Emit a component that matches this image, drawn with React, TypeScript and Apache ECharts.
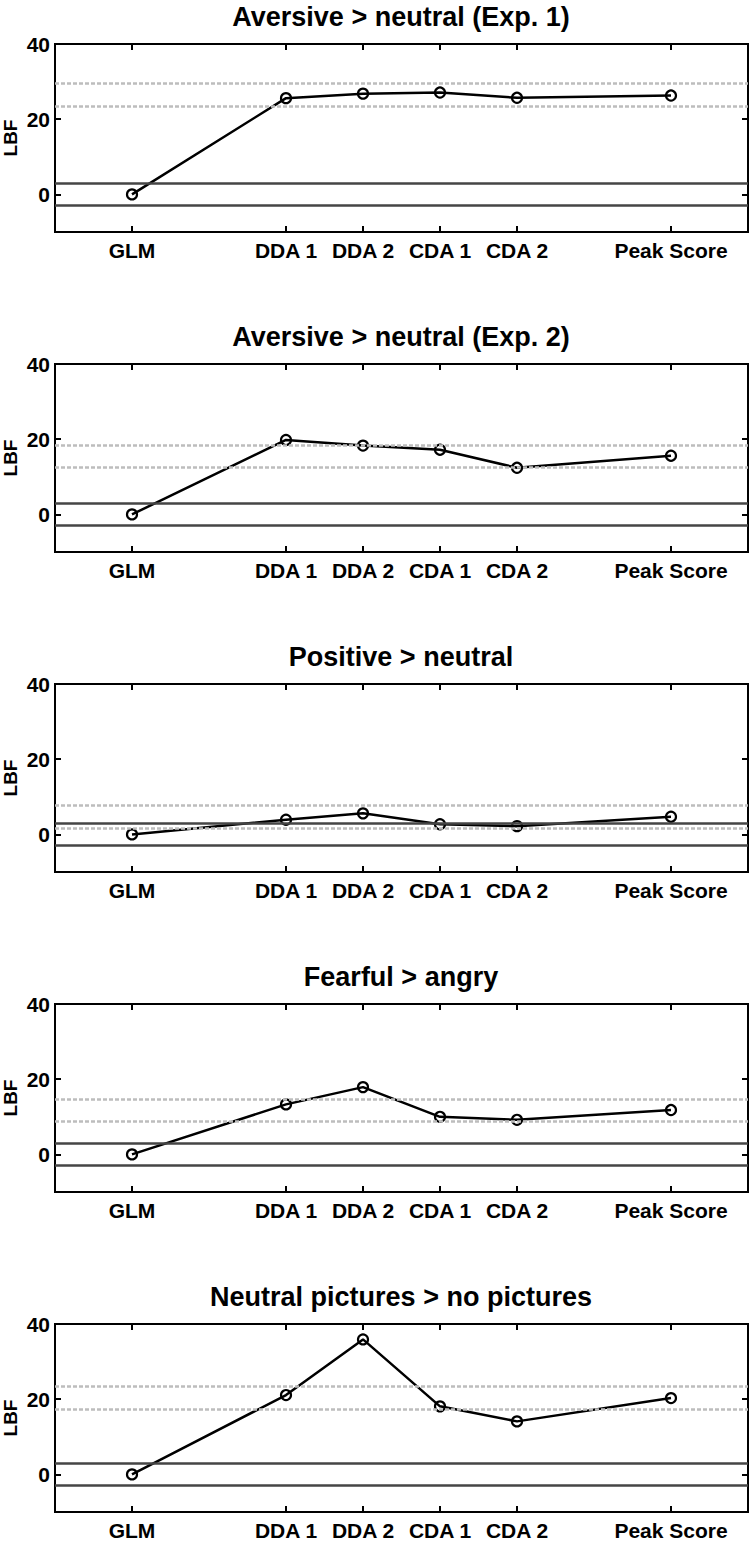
import React, { useEffect, useRef } from "react";
import * as echarts from "echarts";

const categories = ["GLM", "DDA 1", "DDA 2", "CDA 1", "CDA 2", "Peak Score"];
const categoryPositions = [1, 3, 4, 5, 6, 8];
const yTicks = [0, 20, 40];
const yAxisTitle = "LBF";

const panelTitles = [
  "Aversive > neutral (Exp. 1)",
  "Aversive > neutral (Exp. 2)",
  "Positive > neutral",
  "Fearful > angry",
  "Neutral pictures > no pictures",
];

const lbfExp1 = [0, 25.6, 26.8, 27.1, 25.7, 26.3];
const lbfExp2 = [0, 19.8, 18.3, 17.2, 12.4, 15.6];
const lbfPositive = [0, 3.9, 5.6, 2.7, 2.2, 4.7];
const lbfFearful = [0, 13.3, 17.9, 10.0, 9.2, 11.8];
const lbfNeutralPictures = [0, 21.1, 35.9, 18.1, 14.1, 20.3];
const panelValues = [lbfExp1, lbfExp2, lbfPositive, lbfFearful, lbfNeutralPictures];

const upperGrayLines = [29.5, 18.5, 7.7, 14.8, 23.4];
const lowerGrayLines = [23.4, 12.6, 1.7, 8.8, 17.3];
const significanceThresholds = [3, -3];

const FONT = "'Liberation Sans', Arial, Helvetica, sans-serif";

export default function App() {
  const ref = useRef<HTMLDivElement>(null);

  useEffect(() => {
    if (!ref.current) return;
    const chart = echarts.init(ref.current, undefined, { renderer: "svg" });

    const grids: any[] = [];
    const xAxes: any[] = [];
    const yAxes: any[] = [];
    const series: any[] = [];
    const titles: any[] = [];
    const graphics: any[] = [];

    const tickStyle = { show: true, inside: true, length: 6, lineStyle: { color: "#000", width: 2 } };
    const axisLineStyle = { show: true, onZero: false, lineStyle: { color: "#000", width: 2 } };
    const GRID_H = 188;

    panelValues.forEach((vals, i) => {
      const top = 44 + 320 * i;
      grids.push({
        left: 55,
        right: 2,
        top,
        height: GRID_H,
        show: true,
        borderColor: "#000",
        borderWidth: 2,
        backgroundColor: "#fff",
        containLabel: false,
        outerBoundsMode: "none",
      });
      titles.push({
        text: panelTitles[i],
        left: 401,
        textAlign: "center",
        top: top - 42,
        padding: 0,
        textStyle: {
          fontFamily: FONT,
          fontWeight: "bold",
          fontSize: 27,
          color: "#000",
          lineHeight: 30,
        },
      });
      graphics.push({
        type: "text",
        x: 10,
        y: top + GRID_H / 2,
        rotation: Math.PI / 2,
        silent: true,
        style: {
          text: yAxisTitle,
          fontFamily: FONT,
          fontWeight: "bold",
          fontSize: 19,
          fill: "#000",
          align: "center",
          verticalAlign: "middle",
        },
      });

      xAxes.push({
        type: "value",
        gridIndex: i,
        min: 0,
        max: 9,
        position: "bottom",
        splitLine: { show: false },
        axisLine: axisLineStyle,
        axisTick: { ...tickStyle, customValues: categoryPositions },
        axisLabel: {
          customValues: categoryPositions,
          formatter: (v: number) => categories[categoryPositions.indexOf(v)] ?? "",
          fontFamily: FONT,
          fontWeight: "bold",
          fontSize: 21,
          color: "#000",
          margin: 8,
        },
      });
      xAxes.push({
        type: "value",
        gridIndex: i,
        min: 0,
        max: 9,
        position: "top",
        splitLine: { show: false },
        axisLine: axisLineStyle,
        axisTick: { ...tickStyle, customValues: categoryPositions },
        axisLabel: { show: false },
      });
      yAxes.push({
        type: "value",
        gridIndex: i,
        min: -10,
        max: 40,
        position: "left",
        splitLine: { show: false },
        axisLine: axisLineStyle,
        axisTick: { ...tickStyle, customValues: yTicks },
        axisLabel: {
          customValues: yTicks,
          fontFamily: FONT,
          fontWeight: "bold",
          fontSize: 21,
          color: "#000",
          margin: 5,
        },
      });
      yAxes.push({
        type: "value",
        gridIndex: i,
        min: -10,
        max: 40,
        position: "right",
        splitLine: { show: false },
        axisLine: axisLineStyle,
        axisTick: { ...tickStyle, customValues: yTicks },
        axisLabel: { show: false },
      });

      const xIdx = i * 2;
      const yIdx = i * 2;

      series.push({
        type: "line",
        xAxisIndex: xIdx,
        yAxisIndex: yIdx,
        data: [],
        z: 1,
        silent: true,
        markLine: {
          silent: true,
          symbol: ["none", "none"],
          label: { show: false },
          data: [
            { yAxis: upperGrayLines[i], lineStyle: { color: "#bdbdbd", width: 2.5, type: [4, 2] } },
            { yAxis: lowerGrayLines[i], lineStyle: { color: "#bdbdbd", width: 2.5, type: [4, 2] } },
            ...significanceThresholds.map((t) => ({
              yAxis: t,
              lineStyle: { color: "#454545", width: 2.5, type: "solid" },
            })),
          ],
        },
      });

      series.push({
        type: "line",
        xAxisIndex: xIdx,
        yAxisIndex: yIdx,
        z: 3,
        data: categoryPositions.map((x, j) => [x, vals[j]]),
        symbol: "circle",
        symbolSize: 10,
        showAllSymbol: true,
        lineStyle: { color: "#000", width: 2.5 },
        itemStyle: { color: "rgba(0,0,0,0)", borderColor: "#000", borderWidth: 2.2 },
      });
    });

    chart.setOption({
      animation: false,
      backgroundColor: "#fff",
      title: titles,
      grid: grids,
      xAxis: xAxes,
      yAxis: yAxes,
      series,
      graphic: graphics,
    });

    return () => chart.dispose();
  }, []);

  return (
    <div
      ref={ref}
      style={{ position: "absolute", left: 0, top: 0, width: 750, height: 1544, background: "#fff" }}
    />
  );
}
